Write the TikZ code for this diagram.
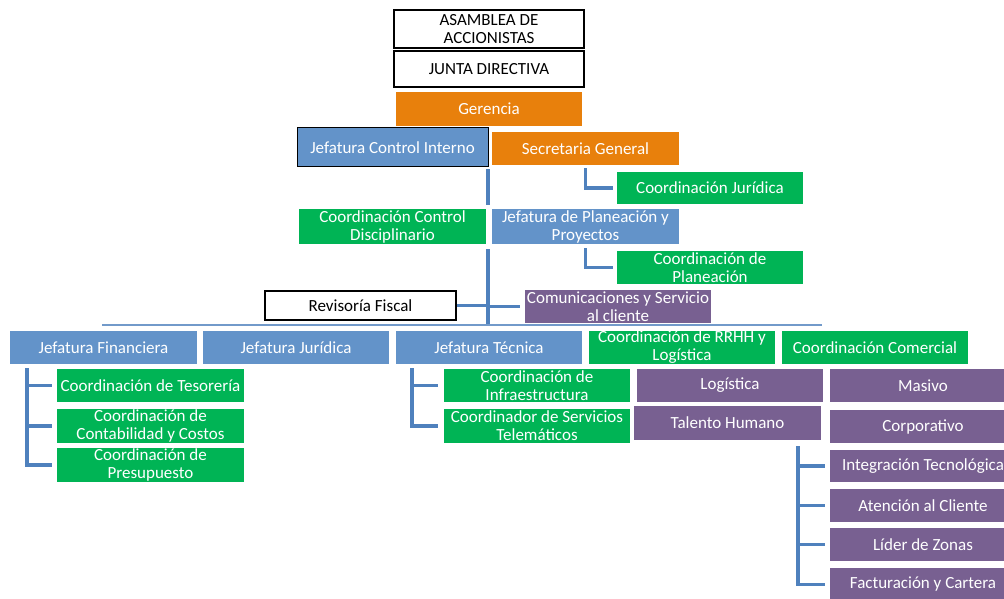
\documentclass[tikz,border=0pt]{standalone}
\usepackage{fontspec}
\setmainfont{Carlito}
\definecolor{orgC}{RGB}{232,128,12}
\definecolor{bluC}{RGB}{99,147,201}
\definecolor{grnC}{RGB}{0,180,85}
\definecolor{purC}{RGB}{120,96,145}
\definecolor{lnC}{RGB}{79,129,189}
\newcommand\bx[7]{\node[#6,minimum width={(#4-#2)*1pt},minimum height={(#5-#3)*1pt}] (#1) at ({(#2+#4)/2},{(#3+#5)/2}) {#7};}
\begin{document}
\begin{tikzpicture}[x=1pt,y=-1pt,
  base/.style={inner sep=0pt,align=center,font=\fontsize{17}{18}\selectfont},
  wb/.style={base,draw=black,line width=1.2pt,fill=white,text=black},
  ob/.style={base,fill=orgC,text=white},
  bb/.style={base,fill=bluC,text=white},
  bbk/.style={base,fill=bluC,draw=black,line width=1pt,text=white},
  gb/.style={base,fill=grnC,text=white},
  pb/.style={base,fill=purC,text=white},
  conn/.style={draw=lnC,line width=3.2pt},
  thinln/.style={draw=lnC!80,line width=1.2pt}]
\useasboundingbox (0,0) rectangle (1004,599);
\clip (0,0) rectangle (1004,599);
\fill[white] (0,0) rectangle (1004,599);
% top
\bx{asa}{394}{10}{584}{48}{wb}{ASAMBLEA DE\\ACCIONISTAS}
\bx{jd}{394}{51}{584}{87}{wb}{JUNTA DIRECTIVA}
\bx{ger}{396}{92}{582}{126}{ob}{Gerencia}
\bx{jci}{297}{128}{488}{167}{bbk}{Jefatura Control Interno}
\bx{sg}{492}{132}{679}{165}{ob}{Secretaria General}
\bx{cj}{617}{172}{803}{204}{gb}{Coordinación Jurídica}
\bx{ccd}{299}{209}{486}{244}{gb}{Coordinación Control\\Disciplinario}
\bx{jpp}{492}{209}{679}{244}{bb}{Jefatura de Planeación y\\Proyectos}
\bx{cpl}{617}{251}{803}{284}{gb}{Coordinación de\\Planeación}
\bx{rf}{265}{291}{456}{320}{wb}{Revisoría Fiscal}
\bx{com}{525}{290}{711}{323}{pb}{Comunicaciones y Servicio\\al cliente}
% row 3
\bx{jf}{10}{331}{197}{364}{bb}{Jefatura Financiera}
\bx{jj}{203}{331}{389}{364}{bb}{Jefatura Jurídica}
\bx{jt}{396}{331}{582}{364}{bb}{Jefatura Técnica}
\bx{rrhh}{589}{331}{775}{364}{gb}{Coordinación de RRHH y\\Logística}
\bx{cc}{782}{331}{968}{364}{gb}{Coordinación Comercial}
% financiera children
\bx{tes}{57}{369}{244}{402}{gb}{Coordinación de Tesorería}
\bx{cont}{57}{409}{244}{443}{gb}{Coordinación de\\Contabilidad y Costos}
\bx{pres}{57}{448}{244}{482}{gb}{Coordinación de\\Presupuesto}
% tecnica children
\bx{inf}{444}{369}{630}{402}{gb}{Coordinación de\\Infraestructura}
\bx{tel}{444}{409}{630}{443}{gb}{Coordinador de Servicios\\Telemáticos}
% purple
\bx{log}{637}{369}{823}{402}{pb}{Logística}
\bx{th}{634}{406}{821}{440}{pb}{Talento Humano}
\bx{mas}{830}{369}{1016}{402}{pb}{Masivo}
\bx{corp}{830}{410}{1016}{443}{pb}{Corporativo}
\bx{integ}{830}{450}{1016}{482}{pb}{Integración Tecnológica}
\bx{aten}{830}{489}{1016}{522}{pb}{Atención al Cliente}
\bx{lider}{830}{528}{1016}{561}{pb}{Líder de Zonas}
\bx{fact}{830}{568}{1016}{601}{pb}{Facturación y Cartera}
% connectors
\coordinate (t0) at (488,169);
\coordinate (t1) at (488,205);
\coordinate (t2) at (488,249);
\coordinate (t3) at (488,325);
\draw[conn] (t0) -- (t1);
\draw[conn] (t2) -- (t3);
\draw[conn] (rf.east) -- (rf.east -| t2);
\draw[conn] (com.west -| t2) -- ([xshift=-5pt]com.west);
\draw[conn] ([yshift=-3pt]sg.south) |- ([xshift=-4pt]cj.west);
\draw[conn] ([yshift=-4pt]jpp.south) |- ([xshift=-4pt]cpl.west);
\coordinate (h1) at (102,325);
\coordinate (h2) at (822,325);
\draw[thinln] (h1) -- (h2);
\coordinate (fv) at (27,368);
\draw[conn] (fv) |- ([xshift=-5pt]pres.west);
\draw[conn] (fv |- tes.west) -- ([xshift=-5pt]tes.west);
\draw[conn] (fv |- cont.west) -- ([xshift=-5pt]cont.west);
\coordinate (tv) at (412,368);
\draw[conn] (tv) |- ([xshift=-6pt]tel.west);
\draw[conn] (tv |- inf.west) -- ([xshift=-6pt]inf.west);
\coordinate (pv) at (798,446);
\draw[conn] (pv) |- ([xshift=-5pt]fact.west);
\draw[conn] (pv |- integ.west) -- ([xshift=-5pt]integ.west);
\draw[conn] (pv |- aten.west) -- ([xshift=-5pt]aten.west);
\draw[conn] (pv |- lider.west) -- ([xshift=-5pt]lider.west);
\end{tikzpicture}
\end{document}
